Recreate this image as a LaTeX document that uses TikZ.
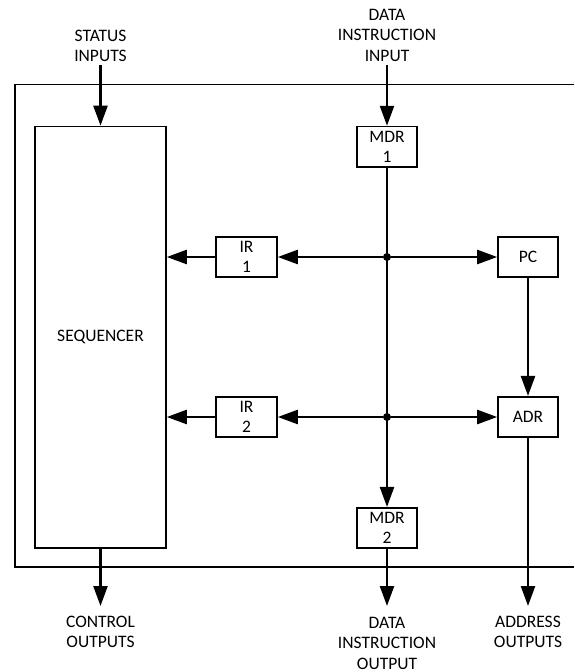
\documentclass[tikz,border=0pt]{standalone}
\usepackage{fontspec}
\setmainfont{Carlito}
\usetikzlibrary{arrows.meta}
\begin{document}
\begin{tikzpicture}[x=1pt,y=-1pt,
  every node/.style={font=\fontsize{17.5}{20.5}\selectfont, align=center, inner sep=0pt},
  blk/.style={draw, line width=1.6pt, minimum width=60pt, minimum height=40.5pt},
  lbl/.style={},
  arr/.style={line width=2.4pt, -{Triangle[length=20pt,width=14pt]}},
  dotj/.style={circle, fill, minimum size=8pt, inner sep=0pt},
  frame/.style={line width=1.4pt}]
\useasboundingbox (0,0) rectangle (574,672);
% outer frame (open on the right)
\draw[frame] (574,84.7) -- (15,84.7) -- (15,567) -- (574,567);
% blocks
\node[blk, minimum width=131pt, minimum height=421.5pt] (seq) at (100.5,337.2) {SEQUENCER};
\node[blk] (mdr1) at (387,146.8) {MDR\\1};
\node[blk] (mdr2) at (387,528) {MDR\\2};
\node[blk, minimum width=61pt] (ir1) at (246.5,257) {IR\\1};
\node[blk, minimum width=61pt] (ir2) at (246.5,417) {IR\\2};
\node[blk] (pc) at (528,257) {PC};
\node[blk] (adr) at (528,417) {ADR};
% junctions
\node[dotj] (j1) at (387,257) {};
\node[dotj] (j2) at (387,417) {};
% labels
\node[lbl] (stin) at (100.5,46) {STATUS\\INPUTS};
\node[lbl] (din) at (387,35) {DATA\\INSTRUCTION\\INPUT};
\node[lbl] (ctl) at (100.5,632) {CONTROL\\OUTPUTS};
\node[lbl] (dout) at (387,643) {DATA\\INSTRUCTION\\OUTPUT};
\node[lbl] (aout) at (528,632) {ADDRESS\\OUTPUTS};
% connector end points
\coordinate (stinS) at (100.5,65);
\coordinate (dinS) at (387,65);
\coordinate (ctlE) at (100.5,606);
\coordinate (doutE) at (387,606);
\coordinate (aoutE) at (528,606);
% connectors
\draw[arr] (stinS) -- (seq.north);
\draw[arr] (dinS) -- (mdr1.north);
\draw[arr] (mdr1.south) -- (mdr2.north);
\draw[arr] (j1) -- (ir1.east);
\draw[arr] (j1) -- (pc.west);
\draw[arr] (j2) -- (ir2.east);
\draw[arr] (j2) -- (adr.west);
\draw[arr] (ir1.west) -- (ir1.west -| seq.east);
\draw[arr] (ir2.west) -- (ir2.west -| seq.east);
\draw[arr] (pc.south) -- (adr.north);
\draw[arr] (adr.south) -- (aoutE);
\draw[arr] (mdr2.south) -- (doutE);
\draw[arr] (seq.south) -- (ctlE);
\end{tikzpicture}
\end{document}
